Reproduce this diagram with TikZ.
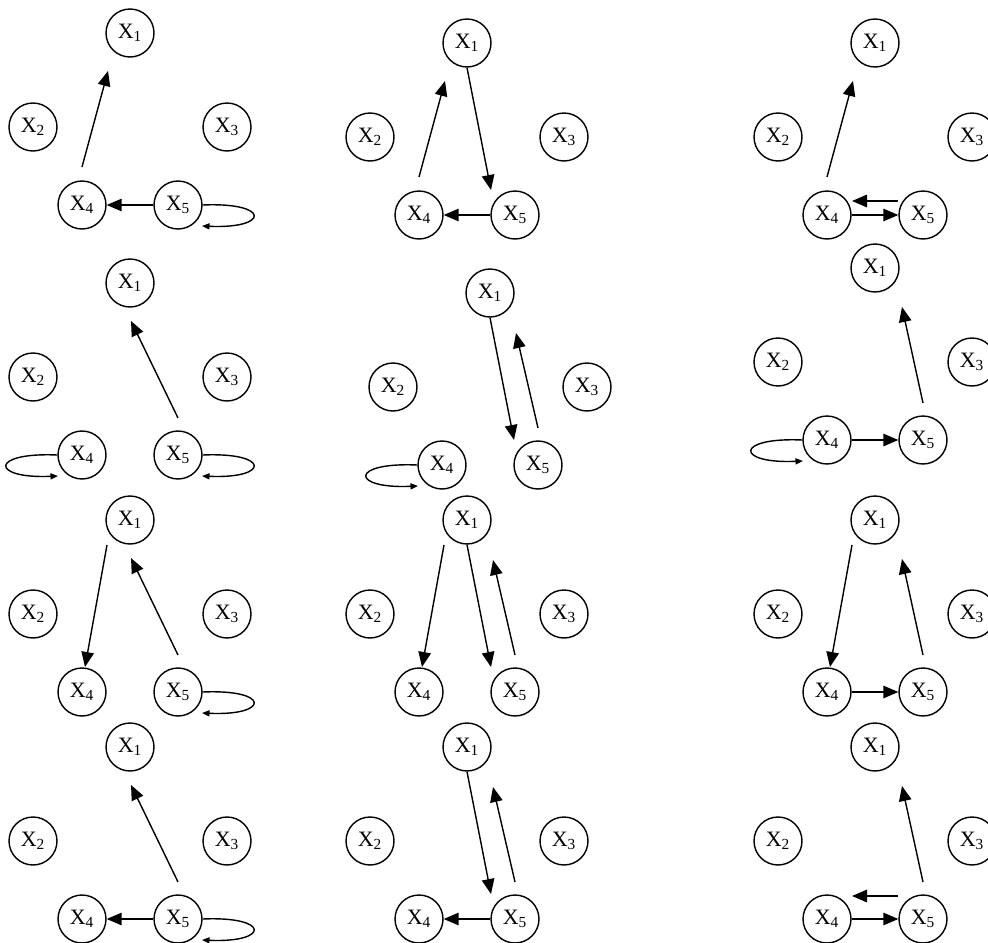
\documentclass[tikz,border=0pt]{standalone}
\usepackage{fontspec}
\setmainfont{Liberation Serif}
\usetikzlibrary{arrows.meta, calc}

\begin{document}
\begin{tikzpicture}[
    x=0.02cm, y=-0.02cm,
    >={Triangle[length=3mm, width=2.5mm]},
    % Variable nodes
    var/.style={
        draw, circle, line width=0.8pt,
        minimum size=0.96cm, inner sep=0pt,
        font=\fontsize{12.5}{14}\selectfont
    },
    % Arrow style
    arrow/.style={->, line width=0.8pt},
    % Self loops
    selfloop/.style={-{Triangle[length=1.5mm, width=1.2mm]}, line width=0.8pt}
]
\useasboundingbox (0,0) rectangle (988,943);

% Five variables in every panel, X1 on top
\foreach \p/\x/\y in {a/130/33, b/467/43, c/875/43,
                      d/130/283, e/490/293, f/875/268,
                      g/130/520, h/467/520, i/875/520,
                      j/130/747, k/467/747, l/875/747} {
    \node[var] (\p1) at (\x,\y) {X\textsubscript{1}};
    \node[var] (\p2) at (\x-97,\y+94) {X\textsubscript{2}};
    \node[var] (\p3) at (\x+97,\y+94) {X\textsubscript{3}};
    \node[var] (\p4) at (\x-48,\y+172) {X\textsubscript{4}};
    \node[var] (\p5) at (\x+48,\y+172) {X\textsubscript{5}};
}

% Row 1
\draw[arrow] ($(a4)+(0,-38)$) -- ($(a1)+(-22,38)$);
\draw[arrow] (a5) -- (a4);
\draw[selfloop] (a5.east) .. controls +(68,-3) and +(68,3) .. ($(a5)+(24,21)$);

\draw[arrow] ($(b4)+(0,-38)$) -- ($(b1)+(-22,38)$);
\draw[arrow] (b1.south) -- ($(b5)+(-24,-25)$);
\draw[arrow] (b5) -- (b4);

\draw[arrow] ($(c4)+(0,-38)$) -- ($(c1)+(-22,38)$);
\draw[arrow] (c4) -- (c5);
\draw[arrow] ($(c5)+(-25,-14)$) -- ($(c4)+(25,-14)$);

% Row 2
\draw[arrow] ($(d5)+(0,-37)$) -- ($(d1)+(1,38)$);
\draw[selfloop] (d4.west) .. controls +(-68,-3) and +(-68,3) .. ($(d4)+(-24,21)$);
\draw[selfloop] (d5.east) .. controls +(68,-3) and +(68,3) .. ($(d5)+(24,21)$);

\draw[arrow] (e1.south) -- ($(e5)+(-24,-25)$);
\draw[arrow] ($(e5)+(0,-37)$) -- ($(e1)+(26,40)$);
\draw[selfloop] (e4.west) .. controls +(-68,-3) and +(-68,3) .. ($(e4)+(-24,21)$);

\draw[arrow] ($(f5)+(0,-37)$) -- ($(f1)+(27,39)$);
\draw[arrow] (f4) -- (f5);
\draw[selfloop] (f4.west) .. controls +(-68,-3) and +(-68,3) .. ($(f4)+(-24,21)$);

% Row 3
\draw[arrow] ($(g1)+(-23,25)$) -- ($(g4)+(3,-25)$);
\draw[arrow] ($(g5)+(0,-37)$) -- ($(g1)+(1,38)$);
\draw[selfloop] (g5.east) .. controls +(68,-3) and +(68,3) .. ($(g5)+(24,21)$);

\draw[arrow] ($(h1)+(-23,25)$) -- ($(h4)+(3,-25)$);
\draw[arrow] (h1.south) -- ($(h5)+(-24,-25)$);
\draw[arrow] ($(h5)+(0,-37)$) -- ($(h1)+(26,40)$);

\draw[arrow] ($(i1)+(-23,25)$) -- ($(i4)+(3,-25)$);
\draw[arrow] ($(i5)+(0,-37)$) -- ($(i1)+(27,39)$);
\draw[arrow] (i4) -- (i5);

% Row 4
\draw[arrow] ($(j5)+(0,-37)$) -- ($(j1)+(1,38)$);
\draw[arrow] (j5) -- (j4);
\draw[selfloop] (j5.east) .. controls +(68,-3) and +(68,3) .. ($(j5)+(24,21)$);

\draw[arrow] (k1.south) -- ($(k5)+(-24,-25)$);
\draw[arrow] ($(k5)+(0,-37)$) -- ($(k1)+(26,40)$);
\draw[arrow] (k5) -- (k4);

\draw[arrow] ($(l5)+(0,-37)$) -- ($(l1)+(27,39)$);
\draw[arrow] (l4) -- (l5);
\draw[arrow] ($(l5)+(-25,-23)$) -- ($(l4)+(25,-23)$);

\end{tikzpicture}
\end{document}
